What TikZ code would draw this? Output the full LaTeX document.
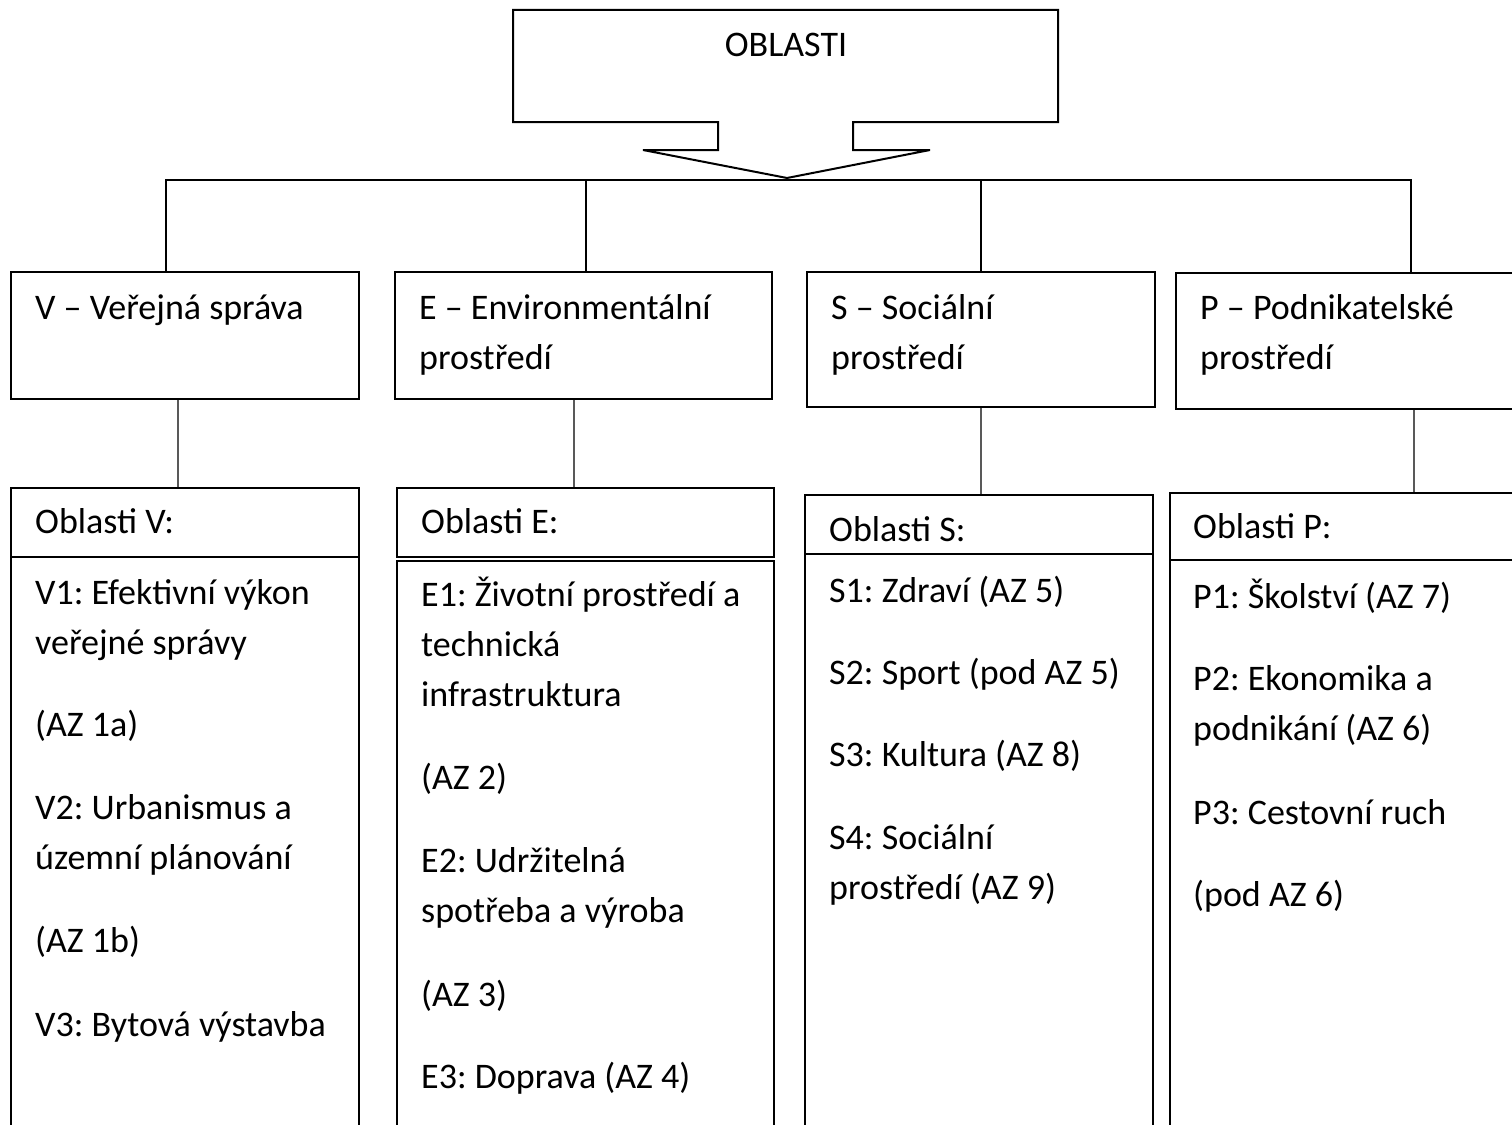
\documentclass[tikz,border=0pt]{standalone}
\usepackage{fontspec}
\setmainfont{Carlito}
\frenchspacing
\begin{document}
\begin{tikzpicture}[x=1pt,y=-1pt,
  box/.style={draw, line width=2pt, anchor=north west, inner sep=0pt},
  txt/.style={anchor=base west, inner sep=0pt, text=black, font=\fontsize{36}{50}\selectfont},
  link/.style={draw=black!65, line width=2.5pt}]
\useasboundingbox (0,0) rectangle (1512,1124);
\clip (0,0) rectangle (1512,1124);

% top box with arrow
\draw[line width=2pt] (513,10) -- (1058,10) -- (1058,122) -- (853,122) -- (853,150)
  -- (930,150) -- (787,178) -- (643,150) -- (718,150) -- (718,122) -- (513,122) -- cycle;
\node[txt, anchor=base] (top) at (786,57) {OBLASTI};
\coordinate (tip) at (787,180);

% main areas
\node[box, minimum width=348pt, minimum height=127pt] (vbox) at (10,271) {};
\node[box, minimum width=377pt, minimum height=127pt] (ebox) at (394,271) {};
\node[box, minimum width=348pt, minimum height=135pt] (sbox) at (806,271) {};
\node[box, minimum width=360pt, minimum height=136pt] (pbox) at (1175,272) {};

\node[txt] (vt) at (35,319) {V – Veřejná správa};
\node[txt] (et1) at (419,319) {E – Environmentální};
\node[txt] (et2) at (419,369) {prostředí};
\node[txt] (st1) at (831,319) {S – Sociální};
\node[txt] (st2) at (831,369) {prostředí};
\node[txt] (pt1) at (1200,319) {P – Podnikatelské};
\node[txt] (pt2) at (1200,369) {prostředí};

% bus from the arrow
\coordinate (vdrop) at ([xshift=-19pt]vbox.north);
\coordinate (edrop) at ([xshift=2.5pt]ebox.north);
\coordinate (sdrop) at (sbox.north);
\coordinate (pdrop) at ([xshift=55pt]pbox.north);
\draw[line width=2pt] (vdrop) -- (vdrop |- tip) -- (pdrop |- tip) -- (pdrop);
\draw[line width=2pt] (edrop) -- (edrop |- tip);
\draw[line width=2pt] (sdrop) -- (sdrop |- tip);

% headers and lists
\node[box, minimum width=348pt, minimum height=69pt] (vhead) at (10,487) {};
\node[box, minimum width=377pt, minimum height=69pt] (ehead) at (396,487) {};
\node[box, minimum width=348pt, minimum height=59pt] (shead) at (804,494) {};
\node[box, minimum width=360pt, minimum height=67pt] (phead) at (1169,492) {};

\node[box, minimum width=348pt, minimum height=600pt] (vlist) at (10,556) {};
\node[box, minimum width=377pt, minimum height=600pt] (elist) at (396,560) {};
\node[box, minimum width=348pt, minimum height=600pt] (slist) at (804,553) {};
\node[box, minimum width=360pt, minimum height=600pt] (plist) at (1169,559) {};

\coordinate (vlink) at ([xshift=-7pt]vbox.south);
\coordinate (elink) at ([xshift=-9.5pt]ebox.south);
\coordinate (slink) at (sbox.south);
\coordinate (plink) at ([xshift=58pt]pbox.south);
\draw[link] (vlink) -- (vlink |- vhead.north);
\draw[link] (elink) -- (elink |- ehead.north);
\draw[link] (slink) -- (slink |- shead.north);
\draw[link] (plink) -- (plink |- phead.north);

\node[txt] (vh) at (35,533) {Oblasti V:};
\node[txt] (eh) at (421,533) {Oblasti E:};
\node[txt] (sh) at (829,541) {Oblasti S:};
\node[txt] (ph) at (1193,538) {Oblasti P:};

% V
\node[txt] (v1) at (35,604) {V1: Efektivní výkon};
\node[txt] (v2) at (35,654) {veřejné správy};
\node[txt] (v3) at (35,736) {(AZ 1a)};
\node[txt] (v4) at (35,819) {V2: Urbanismus a};
\node[txt] (v5) at (35,869) {územní plánování};
\node[txt] (v6) at (35,952) {(AZ 1b)};
\node[txt] (v7) at (35,1036) {V3: Bytová výstavba};

% E
\node[txt] (e1) at (421,606) {E1: Životní prostředí a};
\node[txt] (e2) at (421,656) {technická};
\node[txt] (e3) at (421,706) {infrastruktura};
\node[txt] (e4) at (421,789) {(AZ 2)};
\node[txt] (e5) at (421,872) {E2: Udržitelná};
\node[txt] (e6) at (421,922) {spotřeba a výroba};
\node[txt] (e7) at (421,1006) {(AZ 3)};
\node[txt] (e8) at (421,1088) {E3: Doprava (AZ 4)};

% S
\node[txt] (s1) at (829,602) {S1: Zdraví (AZ 5)};
\node[txt] (s2) at (829,684) {S2: Sport (pod AZ 5)};
\node[txt] (s3) at (829,766) {S3: Kultura (AZ 8)};
\node[txt] (s4) at (829,849) {S4: Sociální};
\node[txt] (s5) at (829,899) {prostředí (AZ 9)};

% P
\node[txt] (p1) at (1193,608) {P1: Školství (AZ 7)};
\node[txt] (p2) at (1193,690) {P2: Ekonomika a};
\node[txt] (p3) at (1193,740) {podnikání (AZ 6)};
\node[txt] (p4) at (1193,824) {P3: Cestovní ruch};
\node[txt] (p5) at (1193,906) {(pod AZ 6)};

\end{tikzpicture}
\end{document}
